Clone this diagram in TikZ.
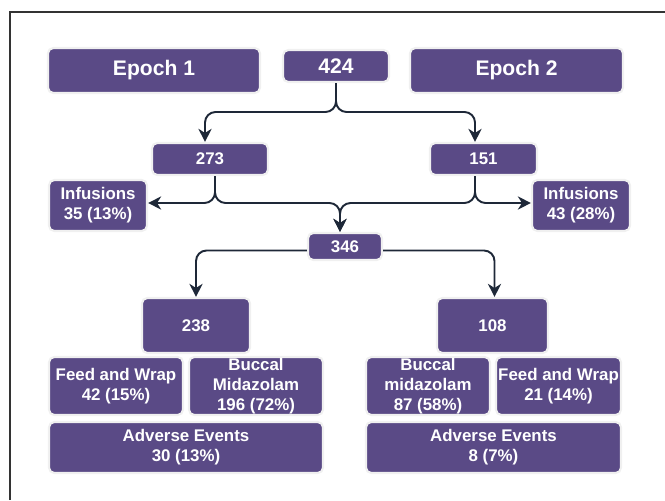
\documentclass[tikz,border=0pt]{standalone}
\usepackage{fontspec}
\setsansfont{Liberation Sans}
\usetikzlibrary{arrows.meta,calc}
\definecolor{boxpurple}{RGB}{90,74,134}
\definecolor{linknavy}{RGB}{30,40,56}
\begin{document}
\begin{tikzpicture}[x=0.02cm,y=-0.02cm,
  box/.style={fill=boxpurple,draw=gray!12,line width=1.2pt,rounded corners=3pt,
    text=white,inner sep=0pt,align=center,font=\sffamily\bfseries\fontsize{9.6}{11.3}\selectfont},
  bigbox/.style={box,font=\sffamily\bfseries\fontsize{12}{14}\selectfont},
  link/.style={draw=linknavy,line width=1.1pt,rounded corners=6pt,-{Stealth[length=7.5pt,width=7.5pt]}}]
\useasboundingbox (0,0) rectangle (665,500);
\draw[line width=0.8pt,black!80] (10,500) -- (10,12) -- (665,12);

\node[bigbox,minimum width=4.24cm,minimum height=0.9cm] (epochA) at (154,70.5) {Epoch 1};
\node[bigbox,minimum width=2.12cm,minimum height=0.64cm] (total) at (336,66) {424};
\node[bigbox,minimum width=4.26cm,minimum height=0.9cm] (epochB) at (516.5,70.5) {Epoch 2};

\node[box,minimum width=2.32cm,minimum height=0.64cm] (n273) at (210,159) {273};
\node[box,minimum width=2.14cm,minimum height=0.64cm] (n151) at (483.5,159) {151};
\node[box,minimum width=1.96cm,minimum height=1.02cm] (infA) at (98,205.5) {Infusions\\35 (13\%)};
\node[box,minimum width=1.96cm,minimum height=1.02cm] (infB) at (581,205.5) {Infusions\\43 (28\%)};
\node[box,minimum width=1.48cm,minimum height=0.54cm] (n346) at (345,246.5) {346};

\node[box,minimum width=2.16cm,minimum height=1.1cm] (n238) at (196,325.5) {238};
\node[box,minimum width=2.22cm,minimum height=1.1cm] (n108) at (492.5,325.5) {108};

\node[box,minimum width=2.68cm,minimum height=1.16cm] (fwA) at (116,386) {Feed and Wrap\\42 (15\%)};
\node[box,minimum width=2.68cm,minimum height=1.16cm] (bmA) at (256,386) {Buccal\\Midazolam\\196 (72\%)};
\node[box,minimum width=5.48cm,minimum height=1.02cm] (aeA) at (186,447.5) {Adverse Events\\30 (13\%)};
\node[box,minimum width=2.48cm,minimum height=1.16cm] (bmB) at (428,386) {Buccal\\midazolam\\87 (58\%)};
\node[box,minimum width=2.5cm,minimum height=1.16cm] (fwB) at (558.5,386) {Feed and Wrap\\21 (14\%)};
\node[box,minimum width=5.1cm,minimum height=1.02cm] (aeB) at (493.5,447.5) {Adverse Events\\8 (7\%)};

% split of the total
\coordinate (j1) at (336,112);
\draw[link] (total.south) -- (j1) -| ($(n273.north)+(-5,0)$);
\draw[link] (total.south) -- (j1) -| ($(n151.north)+(-8.5,0)$);

% infusions and merge
\coordinate (j2) at (215,203);
\coordinate (j3) at (475,203);
\draw[link] ($(n273.south)+(5,0)$) -- (j2) -- (infA.east |- j2);
\draw[link] ($(n273.south)+(5,0)$) -- (j2) -| ($(n346.north)+(-5,0)$);
\draw[link] ($(n151.south)+(-8.5,0)$) -- (j3) -- (infB.west |- j3);
\draw[link] ($(n151.south)+(-8.5,0)$) -- (j3) -| ($(n346.north)+(-5,0)$);

% epochs after merge
\draw[link] ($(n346.west)+(0,4)$) -| (n238.north);
\draw[link] ($(n346.east)+(0,4)$) -| ($(n108.north)+(2,0)$);
\end{tikzpicture}
\end{document}
